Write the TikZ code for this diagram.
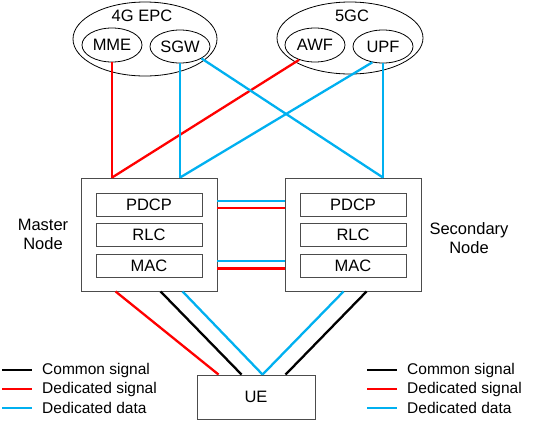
\documentclass[tikz,border=0pt]{standalone}
\usepackage{fontspec}
\setmainfont{Liberation Sans}
\usetikzlibrary{shapes.geometric,calc}
\definecolor{cblue}{RGB}{0,176,240}
\definecolor{cred}{RGB}{255,0,0}
\begin{document}
\begin{tikzpicture}[x=1pt,y=-1pt,
  font=\fontsize{16.5}{19}\selectfont,
  ell/.style={draw, ellipse, inner sep=0pt, line width=0.8pt},
  frame/.style={draw=black!70, line width=0.9pt, rectangle, inner sep=0pt},
  layer/.style={frame, minimum width=106pt, minimum height=23pt},
  txt/.style={inner sep=0pt},
  legtxt/.style={txt, anchor=west, font=\fontsize{15.5}{18}\selectfont},
  common/.style={line width=2.3pt, black},
  dsig/.style={line width=2.3pt, cred},
  ddata/.style={line width=2.3pt, cblue}]
\useasboundingbox (0,0) rectangle (535,421);

% core networks
\node[ell, minimum width=144pt, minimum height=74pt] (epc) at (145,39) {};
\node[txt] (epct) at (142,16) {4G EPC};
\node[ell, minimum width=60pt, minimum height=34pt] (mme) at (112,45) {MME};
\node[ell, minimum width=60pt, minimum height=33pt] (sgw) at (180,46.5) {SGW};

\node[ell, minimum width=146pt, minimum height=72pt] (fgc) at (350,38) {};
\node[txt] (fgct) at (352,16) {5GC};
\node[ell, minimum width=60pt, minimum height=34pt] (awf) at (315,45) {AWF};
\node[ell, minimum width=60pt, minimum height=33pt] (upf) at (383,46.5) {UPF};

% RAN nodes
\node[frame, minimum width=136pt, minimum height=113pt] (master) at (149,234.5) {};
\node[layer] (mpdcp) at (149,204.5) {PDCP};
\node[layer] (mrlc) at (149,235) {RLC};
\node[layer] (mmac) at (149,265.5) {MAC};
\node[txt, align=center] (mlab) at (43,234) {Master\\Node};

\node[frame, minimum width=136pt, minimum height=113pt] (sec) at (353,234.5) {};
\node[layer] (spdcp) at (353,204.5) {PDCP};
\node[layer] (srlc) at (353,235) {RLC};
\node[layer] (smac) at (353,265.5) {MAC};
\node[txt, align=center] (slab) at (469,238) {Secondary\\Node};

\node[frame, minimum width=118pt, minimum height=44pt] (ue) at (256,397) {UE};

% core to RAN
\draw[dsig] (mme.south) -- (mme.south |- master.north);
\draw[dsig] (awf.-137) -- (mme.south |- master.north);
\draw[ddata] (sgw.south) -- (sgw.south |- master.north);
\draw[ddata] (upf.-124) -- (sgw.south |- master.north);
\draw[ddata] (sgw.south east) -- (upf.south |- sec.north);
\draw[ddata] (upf.south) -- (upf.south |- sec.north);

% Xn between nodes
\draw[ddata] (master.east |- 0,201) -- (sec.west |- 0,201);
\draw[dsig] (master.east |- 0,208) -- (sec.west |- 0,208);
\draw[ddata] (master.east |- 0,261) -- (sec.west |- 0,261);
\draw[dsig] (master.east |- 0,268.5) -- (sec.west |- 0,268.5);

% RAN to UE
\coordinate (m1) at ($(master.south west)+(35,0)$);
\coordinate (m2) at ($(master.south west)+(80,0)$);
\coordinate (m3) at ($(master.south west)+(102,0)$);
\coordinate (s1) at ($(sec.south west)+(59,0)$);
\coordinate (s2) at ($(sec.south west)+(82,0)$);
\coordinate (u1) at ($(ue.north west)+(22,0)$);
\coordinate (u2) at ($(ue.north west)+(45,0)$);
\coordinate (u3) at ($(ue.north west)+(66,0)$);
\coordinate (u4) at ($(ue.north west)+(89,0)$);
\draw[dsig] (m1) -- (u1);
\draw[common] (m2) -- (u2);
\draw[ddata] (m3) -- (u3);
\draw[ddata] (s1) -- (u3);
\draw[common] (s2) -- (u4);

% legends
\coordinate (la1) at (2,370);  \coordinate (lb1) at (32,370);
\coordinate (la2) at (2,389);  \coordinate (lb2) at (32,389);
\coordinate (la3) at (2,408);  \coordinate (lb3) at (32,408);
\draw[common] (la1) -- (lb1);
\draw[dsig] (la2) -- (lb2);
\draw[ddata] (la3) -- (lb3);
\node[legtxt] (lt1) at (42,370) {Common signal};
\node[legtxt] (lt2) at (42,389) {Dedicated signal};
\node[legtxt] (lt3) at (42,408) {Dedicated data};

\coordinate (ra1) at (367,370);  \coordinate (rb1) at (397,370);
\coordinate (ra2) at (367,389);  \coordinate (rb2) at (397,389);
\coordinate (ra3) at (367,408);  \coordinate (rb3) at (397,408);
\draw[common] (ra1) -- (rb1);
\draw[dsig] (ra2) -- (rb2);
\draw[ddata] (ra3) -- (rb3);
\node[legtxt] (rt1) at (407,370) {Common signal};
\node[legtxt] (rt2) at (407,389) {Dedicated signal};
\node[legtxt] (rt3) at (407,408) {Dedicated data};
\end{tikzpicture}
\end{document}
